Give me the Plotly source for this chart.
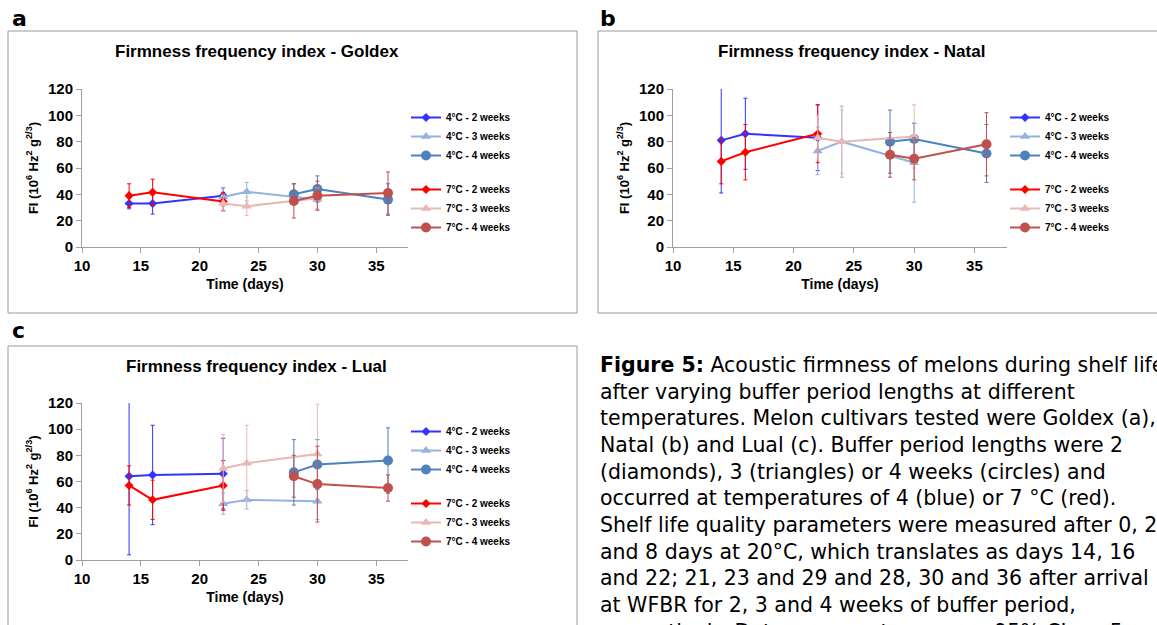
import plotly.graph_objects as go

W, H = 1157, 625
days2 = [14, 16, 22]
days3 = [22, 24, 30]
days4 = [28, 30, 36]
series_names = ["4°C - 2 weeks", "4°C - 3 weeks", "4°C - 4 weeks",
                "7°C - 2 weeks", "7°C - 3 weeks", "7°C - 4 weeks"]
colors = ["#3333ff", "#95b3e0", "#4f81bd", "#ff0000", "#e6b9b8", "#c0504d"]
symbols = ["diamond", "triangle-up", "circle", "diamond", "triangle-up", "circle"]
sizes = [7, 9, 10, 7, 9, 10]
xs = [days2, days3, days4, days2, days3, days4]

goldex_mean = [[33, 33, 39], [38, 42, 36], [40, 44, 36], [39, 41.5, 34.5], [33, 31, 37], [35, 39, 41]]
goldex_ci = [[4, 8, 6], [7, 7, 8], [8, 10, 12], [9, 10, 7], [6, 7, 8], [13, 11, 16]]
natal_mean = [[81, 86, 83], [73, 80, 64], [80, 82, 71], [65, 72, 86], [83, 80, 84], [70, 67, 78]]
natal_ci = [[40, 27, 25], [18, 27, 30], [24, 12, 22], [17, 21, 22], [17, 24, 24], [17, 16, 24]]
lual_mean = [[64, 65, 66], [43, 46, 45], [67, 73, 76], [57, 46, 57], [70, 74, 81], [64, 58, 55]]
lual_ci = [[60, 38, 27], [8, 7, 14], [25, 19, 25], [15, 15, 19], [26, 29, 38], [16, 29, 10]]

panels = [
    ("Firmness frequency index - Goldex", goldex_mean, goldex_ci, (82, 408, 89, 247), (8, 577, 31, 313), "a", (10, 18)),
    ("Firmness frequency index - Natal", natal_mean, natal_ci, (673, 1007, 89, 247), (598, 1170, 31, 313), "b", (598, 18)),
    ("Firmness frequency index - Lual", lual_mean, lual_ci, (82, 408, 403, 560), (8, 577, 346, 640), "c", (10, 330)),
]

fig = go.Figure()
layout = dict(width=W, height=H, margin=dict(l=0, r=0, t=0, b=0, autoexpand=False),
              paper_bgcolor="white", plot_bgcolor="white", showlegend=True)
annotations = []
shapes = []
bold = "Liberation Sans"
for i, (title, means, cis, (x0, x1, y0, y1), (bx0, bx1, by0, by1), lab, (lx, ly)) in enumerate(panels):
    ax = "" if i == 0 else str(i + 1)
    lg = "legend" if i == 0 else f"legend{i+1}"
    for k in range(6):
        fig.add_trace(go.Scatter(
            x=xs[k], y=means[k], name=series_names[k], mode="lines+markers",
            xaxis="x" + ax, yaxis="y" + ax, legend=lg,
            legendgroup=series_names[k][:3],
            line=dict(color=colors[k], width=2),
            marker=dict(symbol=symbols[k], size=sizes[k], color=colors[k]),
            error_y=dict(type="data", array=cis[k], color=colors[k], thickness=1, width=2),
            cliponaxis=True))
    axis_font = dict(family=bold, size=15, color="black", weight="bold")
    layout["xaxis" + ax] = dict(domain=[x0 / W, x1 / W], anchor="y" + ax, range=[10, 37.7],
                                tickvals=[10, 15, 20, 25, 30, 35], showgrid=False, zeroline=False,
                                showline=True, linecolor="#a0a0a0", ticks="outside", ticklen=5,
                                tickcolor="#a0a0a0", tickfont=axis_font,
                                title=dict(text="<b>Time (days)</b>", font=dict(family=bold, size=14, color="black"), standoff=6))
    layout["yaxis" + ax] = dict(domain=[1 - y1 / H, 1 - y0 / H], anchor="x" + ax, range=[0, 120],
                                dtick=20, showgrid=False, zeroline=False, showline=True,
                                linecolor="#a0a0a0", ticks="outside", ticklen=5, tickcolor="#a0a0a0",
                                tickfont=axis_font,
                                title=dict(text="<b>FI (10<sup>6</sup> Hz<sup>2</sup> g<sup>2/3</sup>)</b>",
                                           font=dict(family=bold, size=13, color="black"), standoff=6))
    layout[lg] = dict(x=(x1 - 2) / W, y=1 - (y0 + 14) / H, xanchor="left", yanchor="top",
                      traceorder="grouped", tracegroupgap=15, itemwidth=30,
                      font=dict(family=bold, size=10, color="black", weight="bold"), bgcolor="rgba(0,0,0,0)",
                      itemsizing="trace")
    shapes.append(dict(type="rect", xref="paper", yref="paper", x0=bx0 / W, x1=bx1 / W,
                       y0=1 - by1 / H, y1=1 - by0 / H, line=dict(color="#9a9a9a", width=1)))
    annotations.append(dict(text=f"<b>{title}</b>", xref="paper", yref="paper",
                            x=(x0 + x1) / 2 / W + 0.01, y=1 - (by0 + 20) / H, xanchor="center", yanchor="middle",
                            showarrow=False, font=dict(family=bold, size=17, color="black")))
    annotations.append(dict(text=f"<b>{lab}</b>", xref="paper", yref="paper", x=lx / W, y=1 - ly / H,
                            xanchor="left", yanchor="middle", showarrow=False,
                            font=dict(family="DejaVu Sans", size=22, color="black")))

caption = ("<b>Figure 5:</b> Acoustic firmness of melons during shelf life<br>"
           "after varying buffer period lengths at different<br>"
           "temperatures. Melon cultivars tested were Goldex (a),<br>"
           "Natal (b) and Lual (c). Buffer period lengths were 2<br>"
           "(diamonds), 3 (triangles) or 4 weeks (circles) and<br>"
           "occurred at temperatures of 4 (blue) or 7 °C (red).<br>"
           "Shelf life quality parameters were measured after 0, 2<br>"
           "and 8 days at 20°C, which translates as days 14, 16<br>"
           "and 22; 21, 23 and 29 and 28, 30 and 36 after arrival<br>"
           "at WFBR for 2, 3 and 4 weeks of buffer period,<br>"
           "respectively. Data represent means ± 95% CI, n=5.")
annotations.append(dict(text=caption, xref="paper", yref="paper", x=598 / W, y=1 - 351 / H,
                        xanchor="left", yanchor="top", align="left", showarrow=False,
                        font=dict(family="DejaVu Sans", size=20.5, color="black")))
layout["annotations"] = annotations
layout["shapes"] = shapes
fig.update_layout(**layout)
fig.write_html("out.html", config={"displayModeBar": False},
               post_script="document.documentElement.style.margin='0';document.documentElement.style.overflow='hidden';"
                           "document.body.style.margin='0';document.body.style.padding='0';document.body.style.overflow='hidden';")
